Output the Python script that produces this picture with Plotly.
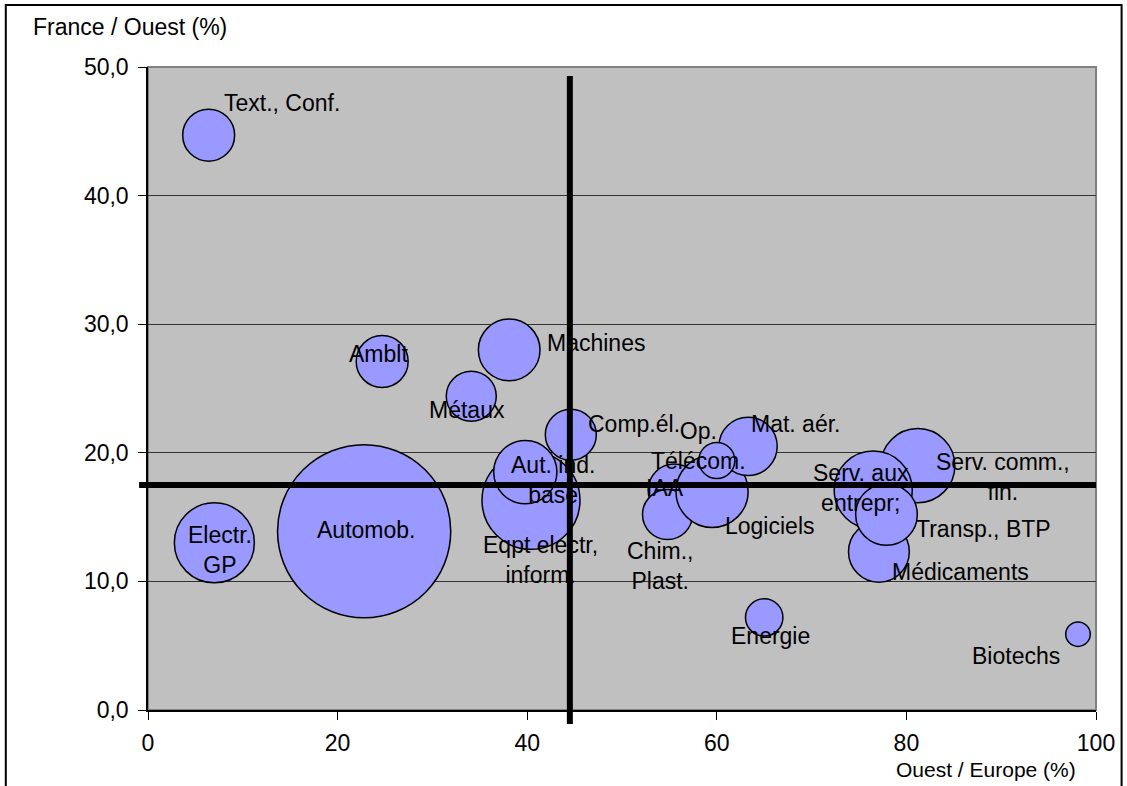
import plotly.graph_objects as go

# Secteurs : part de l'Ouest dans l'Europe (x), part de la France dans l'Ouest (y), poids (taille des bulles)
sectors = [
    "Automob.", "Electr.<br>GP", "Eqpt electr,<br>inform.", "Aut. ind.<br>base", "Comp.él.",
    "Machines", "Métaux", "Amblt", "Text., Conf.", "IAA", "Chim.,<br>Plast.", "Logiciels",
    "Mat. aér.", "Op.<br>Télécom.", "Serv. comm.,<br>fin.", "Serv. aux<br>entrepr;",
    "Médicaments", "Transp., BTP", "Energie", "Biotechs",
]
ouest_europe = [22.8, 7.0, 40.4, 39.8, 44.6, 38.1, 34.1, 24.7, 6.4, 55.5, 54.8, 59.5,
                63.3, 60.0, 81.2, 76.5, 77.1, 77.9, 65.0, 98.1]
france_ouest = [13.9, 13.0, 16.3, 18.5, 21.4, 28.0, 24.4, 27.1, 44.7, 17.1, 15.2, 17.0,
                20.5, 19.4, 19.0, 17.1, 12.3, 15.2, 7.2, 5.9]
poids = [300, 64, 96, 40, 26, 38, 25, 27, 27, 27, 25, 52,
         34, 13, 55, 61, 37, 38, 14, 6]

# Moyennes servant de repères
x_ref = 44.5
y_ref = 17.5

x_ticks = [0, 20, 40, 60, 80, 100]
x_tick_text = ["0", "20", "40", "60", "80", "100"]
y_ticks = [0, 10, 20, 30, 40, 50]
y_tick_text = ["0,0", "10,0", "20,0", "30,0", "40,0", "50,0"]

# Décalage des étiquettes par rapport au centre des bulles (px, vers la droite / vers le bas)
label_offsets = {
    "Automob.": (2, -1), "Electr.<br>GP": (6, 7), "Eqpt electr,<br>inform.": (10, 60),
    "Aut. ind.<br>base": (28, 8), "Comp.él.": (63, -11), "Machines": (87, -7),
    "Métaux": (-4, 14), "Amblt": (-4, -7), "Text., Conf.": (73, -32), "IAA": (-9, -2),
    "Chim.,<br>Plast.": (-8, 51), "Logiciels": (58, 35), "Mat. aér.": (47, -22),
    "Op.<br>Télécom.": (-18, -15), "Serv. comm.,<br>fin.": (85, 11),
    "Serv. aux<br>entrepr;": (-12, -2), "Médicaments": (82, 20),
    "Transp., BTP": (97, 14), "Energie": (6, 19), "Biotechs": (-62, 22),
}

FONT = "Liberation Sans, Arial, sans-serif"

fig = go.Figure()
fig.add_trace(go.Scatter(
    x=ouest_europe, y=france_ouest, mode="markers",
    marker=dict(size=poids, sizemode="area", sizeref=0.02, color="#9999FF",
                opacity=1, line=dict(color="black", width=1.5)),
    hovertext=sectors, hoverinfo="text", cliponaxis=False,
))

annotations = []
for name, xv, yv in zip(sectors, ouest_europe, france_ouest):
    dx, dy = label_offsets[name]
    annotations.append(dict(
        x=xv, y=yv, xref="x", yref="y", text=name, showarrow=False,
        xshift=dx, yshift=-dy, align="center",
        font=dict(family=FONT, size=23, color="black"),
    ))

annotations.append(dict(
    x=-0.1238, y=1.062, xref="paper", yref="paper", text="France / Ouest (%)",
    showarrow=False, xanchor="left", yanchor="middle",
    font=dict(family=FONT, size=23, color="black"),
))
annotations.append(dict(
    x=0.981, y=-0.0933, xref="paper", yref="paper", text="Ouest / Europe (%)",
    showarrow=False, xanchor="right", yanchor="middle",
    font=dict(family=FONT, size=21, color="black"),
))

shapes = [
    # cadre gris de la zone de tracé
    dict(type="rect", xref="paper", yref="paper", x0=0, x1=1, y0=0, y1=1,
         line=dict(color="#808080", width=2), layer="between"),
    # repères moyens
    dict(type="line", xref="x", yref="paper", x0=x_ref, x1=x_ref, y0=-0.0218, y1=0.986,
         line=dict(color="black", width=6), layer="above"),
    dict(type="line", xref="paper", yref="y", x0=-0.0094, x1=1.0, y0=y_ref, y1=y_ref,
         line=dict(color="black", width=6), layer="above"),
    # cadre de la figure
    dict(type="rect", xref="paper", yref="paper", x0=-0.150, x1=1.027, y0=-0.13, y1=1.0964,
         line=dict(color="black", width=2), layer="above"),
]

fig.update_layout(
    width=1127, height=786,
    margin=dict(l=148, r=23, t=67, b=76),
    paper_bgcolor="white", plot_bgcolor="#C0C0C0",
    showlegend=False,
    font=dict(family=FONT, size=21, color="black"),
    annotations=annotations, shapes=shapes,
    xaxis=dict(range=[0, 100], tickvals=x_ticks, ticktext=x_tick_text,
               showgrid=False, zeroline=False, showline=True, linecolor="black",
               linewidth=1.5, ticks="outside", ticklen=8, tickcolor="black",
               tickfont=dict(family=FONT, size=23), ticklabelstandoff=4),
    yaxis=dict(range=[0, 50], tickvals=y_ticks, ticktext=y_tick_text,
               showgrid=True, gridcolor="#333333", gridwidth=1, zeroline=False,
               showline=True, linecolor="black", linewidth=1.5, ticks="outside",
               ticklen=8, tickcolor="black",
               tickfont=dict(family=FONT, size=23), ticklabelstandoff=5),
)

fig.write_html("out.html")
